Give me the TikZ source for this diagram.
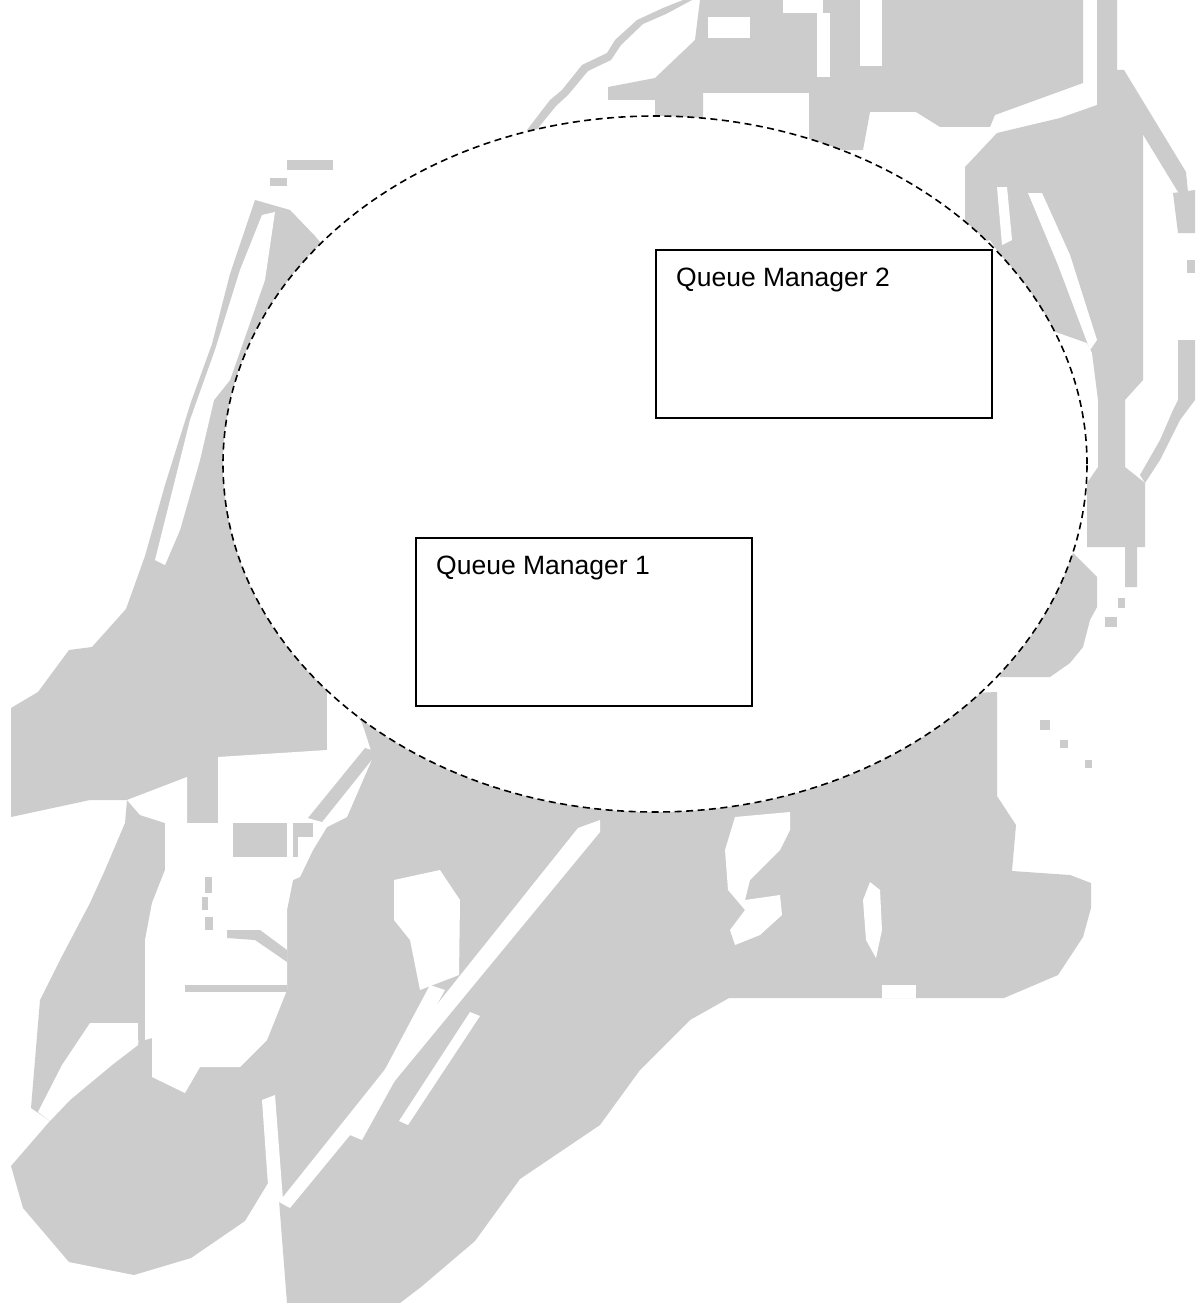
\documentclass[tikz,border=0pt]{standalone}
\usepackage{fontspec}
\setmainfont{Liberation Sans}
\definecolor{watermark}{HTML}{CCCCCC}
\begin{document}
\begin{tikzpicture}[x=1pt,y=-1pt,
  wmark/.style={fill=watermark,draw=none},
  wgap/.style={fill=white,draw=none},
  dashring/.style={draw=black,fill=white,line width=1.6pt,dash pattern=on 7pt off 4.5pt},
  qmbox/.style={draw=black,fill=white,line width=2pt,minimum width=336pt,minimum height=168pt,inner sep=0pt},
  qmtext/.style={anchor=base west,inner sep=0pt,font=\fontsize{26.5}{30}\selectfont}]
\useasboundingbox (0,0) rectangle (1195,1303);
\fill[white] (0,0) rectangle (1195,1303);

% ---- grey watermark: left and lower part
\fill[wmark] (255,200) -- (290,210) -- (315,236) -- (450,400) -- (800,700) -- (997,692)
  -- (997,796) -- (1016,825) -- (1012,871) -- (1070,875) -- (1091,883) -- (1091,908)
  -- (1083,937) -- (1058,975) -- (1004,998) -- (729,998) -- (690,1020) -- (640,1070)
  -- (600,1125) -- (520,1179) -- (475,1241) -- (421,1287) -- (400,1303) -- (287,1303)
  -- (279,1200) -- (268,1183) -- (245,1221) -- (191,1258) -- (134,1275) -- (69,1262)
  -- (23,1208) -- (11,1166) -- (50,1121) -- (31,1108) -- (40,1000) -- (60,960)
  -- (90,903) -- (105,870) -- (125,823) -- (127,800) -- (90,800) -- (11,817) -- (11,708)
  -- (38,692) -- (69,650) -- (92,647) -- (126,609) -- (145,556) -- (165,485) -- (191,402)
  -- (212,344) -- (230,274) -- cycle;
% top band
\fill[wmark] (608,87) -- (655,78) -- (695,40) -- (700,0) -- (1083,0) -- (1083,83)
  -- (1050,95) -- (995,115) -- (990,127) -- (940,127) -- (916,112) -- (870,112)
  -- (863,150) -- (809,150) -- (809,93) -- (703,93) -- (703,118) -- (655,118)
  -- (655,100) -- (608,100) -- cycle;
% right-hand mass
\fill[wmark] (965,167) -- (997,133) -- (1060,118) -- (1097,105) -- (1097,0) -- (1117,0)
  -- (1117,80) -- (1143,130) -- (1143,380) -- (1125,400) -- (1125,467) -- (1145,483)
  -- (1145,547) -- (1137,547) -- (1137,587) -- (1125,587) -- (1125,547) -- (1087,547)
  -- (1087,483) -- (1098,467) -- (1098,400) -- (1092,353) -- (1087,343) -- (1050,330)
  -- (990,240) -- (965,247) -- cycle;
\fill[wmark] (1110,70) -- (1124,70) -- (1186,172) -- (1188,192) -- (1178,192) -- (1128,110) -- cycle;
\fill[wmark] (1173,193) -- (1195,190) -- (1195,233) -- (1178,233) -- cycle;
\fill[wmark] (1187,260) rectangle (1195,273);
\fill[wmark] (1178,340) -- (1195,340) -- (1195,400) -- (1180,420) -- (1160,460) -- (1145,483)
  -- (1140,475) -- (1160,440) -- (1173,410) -- (1178,400) -- cycle;
\fill[wmark] (1000,677) -- (1050,677) -- (1070,663) -- (1083,647) -- (1090,620) -- (1097,607)
  -- (1097,577) -- (1090,570) -- (1073,553) -- (1000,560) -- cycle;
\fill[wmark] (1118,598) rectangle (1125,608);
\fill[wmark] (1105,617) rectangle (1117,627);
% thin strips
\fill[wmark] (527,130) -- (550,100) -- (562,90) -- (582,65) -- (607,53) -- (615,40) -- (637,20)
  -- (663,8) -- (683,0) -- (692,0) -- (666,14) -- (643,24) -- (621,45) -- (611,60) -- (588,71)
  -- (568,95) -- (556,106) -- (534,133) -- cycle;
\fill[wmark] (287,160) rectangle (333,170);
\fill[wmark] (270,178) rectangle (287,186);
\fill[wmark] (1040,720) rectangle (1050,730);
\fill[wmark] (1060,740) rectangle (1068,748);
\fill[wmark] (1085,760) rectangle (1092,768);

% ---- openings in the watermark
% left edge
\fill[wgap] (262,215) -- (275,212) -- (265,280) -- (230,380) -- (214,400) -- (200,460)
  -- (180,530) -- (165,565) -- (155,560) -- (170,500) -- (190,420) -- (215,350) -- (240,270) -- cycle;
% central clearing
\fill[wgap] (127,800) -- (187,777) -- (187,823) -- (218,823) -- (218,757) -- (327,750)
  -- (327,690) -- (340,690) -- (362,723) -- (373,757) -- (347,817) -- (327,827) -- (313,850)
  -- (300,877) -- (293,880) -- (287,910) -- (287,990) -- (267,1040) -- (240,1067)
  -- (200,1067) -- (185,1093) -- (152,1077) -- (152,1038) -- (145,1040) -- (145,940)
  -- (152,903) -- (165,870) -- (165,823) -- (140,815) -- cycle;
\fill[wgap] (90,1023) -- (140,1023) -- (138,1045) -- (112,1065) -- (70,1100) -- (50,1121)
  -- (38,1112) -- (62,1065) -- cycle;
% grey bits standing in the clearing
\fill[wmark] (365,748) -- (378,752) -- (322,822) -- (308,818) -- cycle;
\fill[wmark] (233,823) rectangle (287,857);
\fill[wmark] (293,823) rectangle (313,837);
\fill[wmark] (293,837) rectangle (298,857);
\fill[wmark] (205,877) rectangle (212,893);
\fill[wmark] (202,897) rectangle (208,910);
\fill[wmark] (205,917) rectangle (213,930);
\fill[wmark] (227,930) -- (260,930) -- (287,950) -- (287,962) -- (255,940) -- (227,938) -- cycle;
\fill[wmark] (185,985) rectangle (287,992);
\fill[wmark] (138,990) rectangle (145,1040);
% diagonal slits in the lower band
\fill[wgap] (262,1100) -- (275,1095) -- (283,1200) -- (272,1205) -- (268,1185) -- cycle;
\fill[wgap] (578,828) -- (600,820) -- (600,832) -- (290,1208) -- (279,1202) -- cycle;
\fill[wgap] (430,985) -- (445,990) -- (362,1140) -- (350,1135) -- cycle;
\fill[wgap] (470,1012) -- (480,1016) -- (408,1125) -- (399,1121) -- cycle;
\fill[wgap] (394,880) -- (440,870) -- (460,900) -- (459,975) -- (420,990) -- (410,940) -- (394,920) -- cycle;
% holes below the domain
\fill[wgap] (735,817) -- (790,812) -- (790,830) -- (780,850) -- (750,880) -- (745,900) -- (780,895)
  -- (782,915) -- (760,935) -- (735,945) -- (730,930) -- (745,910) -- (728,890) -- (725,850) -- cycle;
\fill[wgap] (870,882) -- (880,890) -- (882,930) -- (876,958) -- (866,940) -- (863,900) -- cycle;
\fill[wgap] (882,985) rectangle (916,998);
% holes in the top band and right-hand mass
\fill[wgap] (708,17) rectangle (750,38);
\fill[wgap] (783,0) rectangle (823,13);
\fill[wgap] (817,13) rectangle (830,77);
\fill[wgap] (860,0) rectangle (882,66);
\fill[wgap] (1028,193) -- (1042,193) -- (1070,255) -- (1097,340) -- (1090,350) -- (1058,265) -- cycle;
\fill[wgap] (997,187) -- (1007,187) -- (1012,240) -- (1002,245) -- cycle;

% ---- the dashed domain holding both queue managers
\draw[dashring] (655,464) ellipse [x radius=432pt, y radius=348pt];

% ---- queue managers
\node[qmbox] (qm2) at (824,334) {};
\node[qmtext] (qm2name) at ([xshift=21pt,yshift=-37pt]qm2.north west) {Queue Manager 2};
\node[qmbox] (qm1) at (584,622) {};
\node[qmtext] (qm1name) at ([xshift=21pt,yshift=-37pt]qm1.north west) {Queue Manager 1};
\end{tikzpicture}
\end{document}
